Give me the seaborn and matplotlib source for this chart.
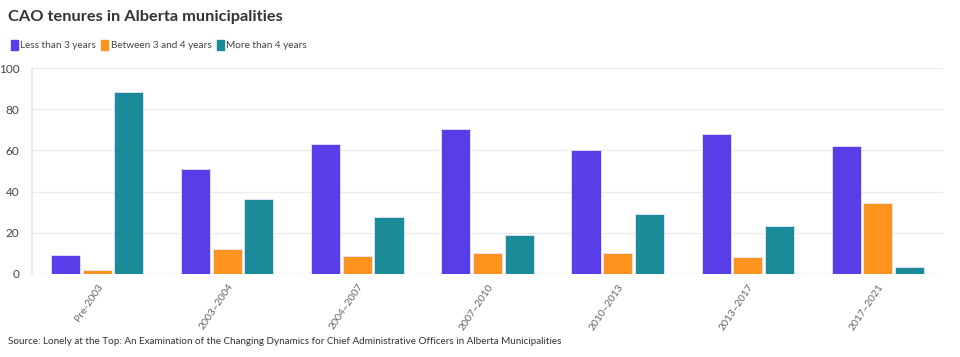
import pandas as pd
import matplotlib.pyplot as plt
import seaborn as sns
from matplotlib.patches import Patch

# ===== data =====
periods = ["Pre-2003", "2003–2004", "2004–2007", "2007–2010", "2010–2013", "2013–2017", "2017–2021"]
less_than_3 = [9.1, 51.1, 63.2, 70.4, 60.2, 67.8, 61.9]
between_3_4 = [1.8, 12.1, 8.7, 10.2, 10.2, 8.4, 34.3]
more_than_4 = [88.5, 36.5, 27.7, 19.1, 29.3, 23.4, 3.2]
series_names = ["Less than 3 years", "Between 3 and 4 years", "More than 4 years"]
colors = ["#573ee8", "#fe931d", "#1a8b99"]

df = pd.DataFrame({
    "period": periods * 3,
    "group": [series_names[0]] * 7 + [series_names[1]] * 7 + [series_names[2]] * 7,
    "value": less_than_3 + between_3_4 + more_than_4,
})

sns.set_theme(style="white")
plt.rcParams["font.family"] = ["Lato", "DejaVu Sans"]

fig = plt.figure(figsize=(9.6, 3.57), dpi=100)
ax = fig.add_axes([32 / 960, 1 - 274 / 357, 911 / 960, 206 / 357])

sns.barplot(data=df, x="period", y="value", hue="group", palette=colors,
            width=0.73, gap=0.08, ax=ax, legend=False, saturation=1,
            edgecolor="#e8e4fb", linewidth=0.6)

ax.set_ylim(0, 100)
ax.set_xlim(-0.5, 6.5)
ax.set_yticks([0, 20, 40, 60, 80, 100])
ax.grid(axis="y", color="#ececec", linewidth=0.9)
ax.set_axisbelow(True)
for s in ["top", "right", "bottom"]:
    ax.spines[s].set_visible(False)
ax.spines["left"].set_color("#e6e6e6")
ax.axhline(0, color="#dddddd", linewidth=0.9, zorder=0)
ax.set_xlabel("")
ax.set_ylabel("")
ax.tick_params(axis="y", length=0, labelsize=8.5, labelcolor="#444444", pad=9)
ax.tick_params(axis="x", length=4, color="#dddddd", labelsize=7.5, labelcolor="#666666", pad=2)
plt.setp(ax.get_xticklabels(), rotation=56, ha="right", rotation_mode="anchor")

fig.text(8 / 960, 1 - 17 / 357, "CAO tenures in Alberta municipalities",
         fontsize=11.8, fontweight="bold", color="#333333", va="center")

handles = [Patch(facecolor=c, edgecolor=c) for c in colors]
fig.legend(handles, series_names, loc="center left", bbox_to_anchor=(2 / 960, 1 - 45 / 357),
           ncol=3, frameon=False, fontsize=7.2, handlelength=0.7, handleheight=1.1,
           handletextpad=0.25, columnspacing=0.5, labelcolor="#444444")

fig.text(8 / 960, 1 - 342 / 357,
         "Source: Lonely at the Top: An Examination of the Changing Dynamics for Chief Administrative Officers in Alberta Municipalities",
         fontsize=7.1, color="#333333", va="center")

fig.savefig("out.png", dpi=100)
